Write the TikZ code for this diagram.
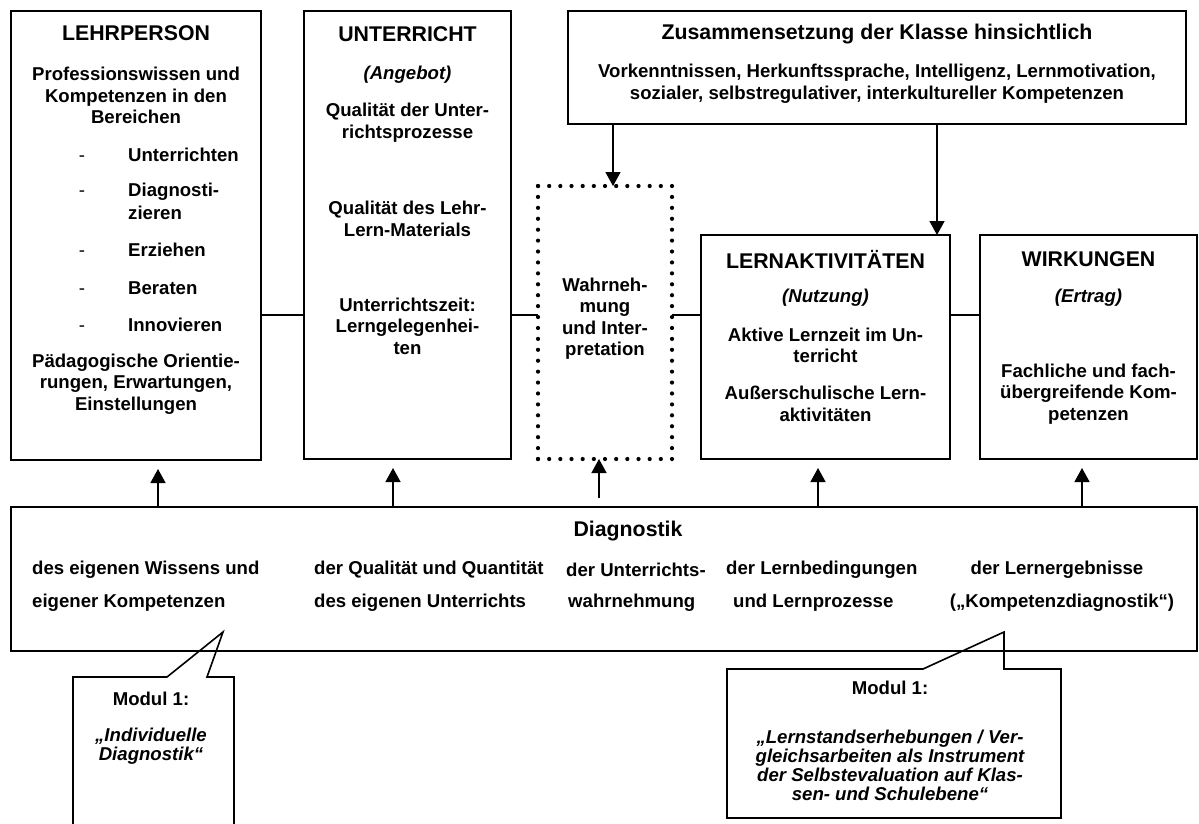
\documentclass[tikz,border=0pt]{standalone}
\usepackage{fontspec}
\setmainfont{Liberation Sans}
\usetikzlibrary{arrows.meta}
\begin{document}
\begin{tikzpicture}[x=1pt,y=-1pt,
  box/.style={draw, line width=1.6pt, inner sep=0pt, outer sep=0pt},
  nobox/.style={inner sep=0pt, outer sep=0pt},
  txt/.style={font=\bfseries\fontsize{18.6}{21.5}\selectfont, align=center, inner sep=0pt},
  ltxt/.style={font=\bfseries\fontsize{18.6}{21.5}\selectfont, align=left, inner sep=0pt, anchor=west},
  ttl/.style={font=\bfseries\fontsize{21.3}{25}\selectfont, inner sep=0pt},
  itx/.style={font=\bfseries\itshape\fontsize{18.6}{19}\selectfont, align=center, inner sep=0pt},
  dashs/.style={font=\fontsize{18.6}{21.5}\selectfont, inner sep=0pt, anchor=base},
  arr/.style={line width=1.6pt, -{Triangle[length=14pt,width=15pt]}},
  ln/.style={line width=1.6pt},
  dotline/.style={line width=4.2pt, line cap=round}]
\useasboundingbox (0,0) rectangle (1199,823);

% boxes
\node[box, minimum width=250pt, minimum height=449pt] (lehr) at (136,235.5) {};
\node[box, minimum width=207pt, minimum height=448pt] (unt) at (407.5,235) {};
\node[box, minimum width=618pt, minimum height=113pt] (zus) at (877,67.5) {};
\node[nobox, minimum width=134pt, minimum height=273pt] (dot) at (605,322.5) {};
\node[box, minimum width=249pt, minimum height=224pt] (lern) at (825.5,347) {};
\node[box, minimum width=217pt, minimum height=224pt] (wirk) at (1088.5,347) {};
\node[box, minimum width=1186pt, minimum height=144pt] (diag) at (604,579) {};

% dotted box sides
\draw[dotline, dash pattern=on 0pt off 11.1667pt] (dot.north west) -- (dot.north east);
\draw[dotline, dash pattern=on 0pt off 11.1667pt] (dot.south west) -- (dot.south east);
\draw[dotline, dash pattern=on 0pt off 10.92pt] (dot.north west) -- (dot.south west);
\draw[dotline, dash pattern=on 0pt off 10.92pt] (dot.north east) -- (dot.south east);

% LEHRPERSON
\node[ttl] (t1) at (136,33) {LEHRPERSON};
\node[txt] (t1a) at (136,95.5) {Professionswissen und\\Kompetenzen in den\\Bereichen};
\coordinate (dx) at (82,0);
\node[ltxt] (i1) at (128,155) {Unterrichten};
\node[ltxt] (i2) at (128,192) {Diagnosti-};
\node[ltxt] (i2b) at (128,213) {zieren};
\node[ltxt] (i3) at (128,250) {Erziehen};
\node[ltxt] (i4) at (128,288) {Beraten};
\node[ltxt] (i5) at (128,325) {Innovieren};
\node[dashs] (d1) at (i1.base -| dx) {-};
\node[dashs] (d2) at (i2.base -| dx) {-};
\node[dashs] (d3) at (i3.base -| dx) {-};
\node[dashs] (d4) at (i4.base -| dx) {-};
\node[dashs] (d5) at (i5.base -| dx) {-};
\node[txt] (t1b) at (136,384) {Pädagogische Orientie-\\rungen, Erwartungen,\\Einstellungen};

% UNTERRICHT
\node[ttl] (t2) at (407.5,34) {UNTERRICHT};
\node[txt] (t2a) at (407.5,75) {\itshape (Angebot)};
\node[txt] (t2b) at (407.5,122.5) {Qualität der Unter-\\richtsprozesse};
\node[txt] (t2c) at (407.5,219) {Qualität des Lehr-\\Lern-Materials};
\node[txt] (t2d) at (407.5,326) {Unterrichtszeit:\\Lerngelegenhei-\\ten};

% Zusammensetzung
\node[ttl] (t3) at (877,34) {Zusammensetzung der Klasse hinsichtlich};
\node[txt] (t3a) at (877,83.5) {Vorkenntnissen, Herkunftssprache, Intelligenz, Lernmotivation,\\sozialer, selbstregulativer, interkultureller Kompetenzen};

% Wahrnehmung
\node[txt] (t4) at (605,318.5) {Wahrneh-\\mung\\und Inter-\\pretation};

% LERNAKTIVITAETEN
\node[ttl] (t5) at (825.5,259) {LERNAKTIVITÄTEN};
\node[txt] (t5a) at (825.5,298) {\itshape (Nutzung)};
\node[txt] (t5b) at (825.5,345.5) {Aktive Lernzeit im Un-\\terricht};
\node[txt] (t5c) at (825.5,404) {Außerschulische Lern-\\aktivitäten};

% WIRKUNGEN
\node[ttl] (t6) at (1088.5,259) {WIRKUNGEN};
\node[txt] (t6a) at (1088.5,298) {\itshape (Ertrag)};
\node[txt] (t6b) at (1088.5,394) {Fachliche und fach-\\übergreifende Kom-\\petenzen};

% Diagnostik
\node[ttl] (t7) at (628,531) {Diagnostik};
\node[ltxt] (c1a) at (32,570) {des eigenen Wissens und};
\node[ltxt] (c1b) at (32,603) {eigener Kompetenzen};
\node[ltxt] (c2a) at (314,570) {der Qualität und Quantität};
\node[ltxt] (c2b) at (314,603) {des eigenen Unterrichts};
\node[ltxt] (c3a) at (566,570) {der Unterrichts-};
\node[ltxt] (c3b) at (568,603) {wahrnehmung};
\node[ltxt] (c4a) at (726,570) {der Lernbedingungen};
\node[ltxt] (c4b) at (733,603) {und Lernprozesse};
\node[txt] (c5a) at (1057,570) {der Lernergebnisse};
\node[txt] (c5b) at (1062,603) {(„Kompetenzdiagnostik“)};

% horizontal connectors
\coordinate (h) at (0,315);
\draw[ln] (lehr.east |- h) -- (unt.west |- h);
\draw[ln] (unt.east |- h) -- (dot.west |- h);
\draw[ln] (dot.east |- h) -- (lern.west |- h);
\draw[ln] (lern.east |- h) -- (wirk.west |- h);

% down arrows
\coordinate (z1) at (613,124);
\coordinate (z2) at (937,124);
\draw[arr] (z1) -- (z1 |- dot.north);
\draw[arr] (z2) -- (z2 |- lern.north);

% up arrows
\coordinate (u1) at (158,507);
\coordinate (u2) at (393,507);
\coordinate (u3) at (599,498);
\coordinate (u4) at (818,507);
\coordinate (u5) at (1082,507);
\draw[arr, shorten >=9pt] (u1) -- (u1 |- lehr.south);
\draw[arr, shorten >=9pt] (u2) -- (u2 |- unt.south);
\draw[arr] (u3) -- (u3 |- dot.south);
\draw[arr, shorten >=9pt] (u4) -- (u4 |- lern.south);
\draw[arr, shorten >=9pt] (u5) -- (u5 |- wirk.south);

% callouts
\draw[ln, line join=miter] (73,824) -- (73,677) -- (167,677) -- (223,632) -- (207,677) -- (234,677) -- (234,824);
\node[txt] (m1) at (151,699) {Modul 1:};
\node[itx] (m1a) at (151,746) {„Individuelle\\Diagnostik“};

\draw[ln, line join=miter] (727,818) -- (727,669) -- (923,669) -- (1004,632) -- (1004,669) -- (1061,669) -- (1061,818) -- cycle;
\node[txt] (m2) at (890,688) {Modul 1:};
\node[itx] (m2a) at (890,765) {„Lernstandserhebungen / Ver-\\gleichsarbeiten als Instrument\\der Selbstevaluation auf Klas-\\sen- und Schulebene“};
\end{tikzpicture}
\end{document}
